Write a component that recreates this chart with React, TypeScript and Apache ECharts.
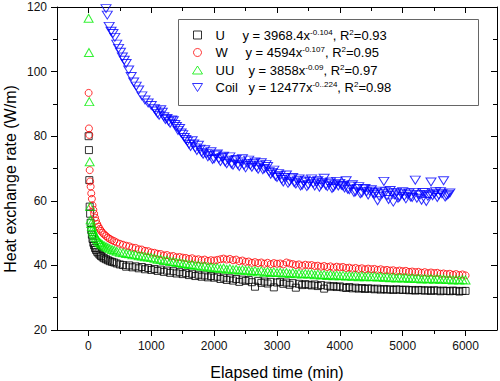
import React, { useEffect, useRef } from 'react';
import * as echarts from 'echarts';

const FONT = '"Liberation Sans", Arial, sans-serif';

// sampling times (min) for U, W, UU
const tEarly = [3, 8, 14, 20, 27, 35, 45, 55, 65, 78, 90, 105, 120, 140, 160, 180, 200, 225, 250, 280, 310, 340, 375, 410, 450, 500];
const tLate = [
  550, 600, 650, 700, 750, 800, 850, 900, 950, 1000,
  1050, 1100, 1150, 1200, 1250, 1300, 1350, 1400, 1450, 1500,
  1550, 1600, 1650, 1700, 1750, 1800, 1850, 1900, 1950, 2000,
  2050, 2100, 2150, 2200, 2250, 2300, 2350, 2400, 2450, 2500,
  2550, 2600, 2650, 2700, 2750, 2800, 2850, 2900, 2950, 3000,
  3050, 3100, 3150, 3200, 3250, 3300, 3350, 3400, 3450, 3500,
  3550, 3600, 3650, 3700, 3750, 3800, 3850, 3900, 3950, 4000,
  4050, 4100, 4150, 4200, 4250, 4300, 4350, 4400, 4450, 4500,
  4550, 4600, 4650, 4700, 4750, 4800, 4850, 4900, 4950, 5000,
  5050, 5100, 5150, 5200, 5250, 5300, 5350, 5400, 5450, 5500,
  5550, 5600, 5650, 5700, 5750, 5800, 5850, 5900, 5950, 6000,
];
const timeMain = [...tEarly, ...tLate];

const uValues = [
  80, 75.7, 66.4, 58.2, 56, 53.2, 51, 49.5, 48.2, 47, 46.2, 45.4, 44.8, 44.2, 43.7, 43.3, 42.9, 42.5, 42.2, 41.9, 41.6, 41.3, 41.1, 40.9, 40.6, 40.3,
  40.1, 39.6, 40.0, 39.4, 39.7, 39.1, 39.5, 38.8, 39.2, 38.6,
  38.9, 38.3, 38.7, 38.0, 38.4, 37.7, 38.2, 37.5, 37.9, 37.3,
  37.6, 37.0, 37.4, 36.7, 37.1, 36.5, 36.9, 36.3, 36.7, 36.2,
  36.5, 35.8, 36.2, 35.5, 36.0, 35.3, 35.8, 34.9, 35.6, 35.2,
  35.5, 34.8, 33.4, 35.2, 34.6, 35.0, 34.4, 34.9, 33.2, 34.7,
  34.9, 34.3, 34.7, 34.0, 34.5, 33.1, 34.3, 33.9, 34.2, 34.0,
  33.8, 34.1, 33.6, 33.9, 32.8, 33.7, 33.4, 33.6, 33.3, 33.5,
  33.2, 33.0, 33.3, 32.9, 33.1, 32.8, 33.0, 32.7, 32.9, 32.8,
  32.6, 32.8, 32.5, 32.7, 32.5, 32.6, 32.4, 32.6, 32.5, 32.4,
  32.5, 32.3, 32.4, 32.2, 32.4, 32.3, 32.2, 32.3, 32.1, 32.3,
  32.2, 32.0, 32.2, 32.1, 32.0, 32.2, 32.1, 31.9, 32.1, 32.1,
];

const wValues = [
  93.4, 82.4, 80.4, 69.5, 66, 64.4, 62.3, 60.6, 58.6, 57.2, 56, 54.8, 53.8, 52.8, 52, 51.3, 50.7, 50.1, 49.6, 49.1, 48.6, 48.2, 47.8, 47.5, 47.1, 46.7,
  46.4, 46.1, 45.9, 45.5, 45.4, 45.0, 44.9, 44.5, 44.4, 44.0,
  43.9, 43.6, 43.5, 43.1, 43.2, 42.8, 42.9, 42.5, 42.6, 42.4,
  42.3, 42.0, 42.2, 41.8, 41.9, 41.6, 41.8, 41.4, 41.6, 41.5,
  41.7, 41.9, 42.1, 41.8, 42.0, 41.6, 41.8, 41.3, 41.5, 41.1,
  41.2, 40.8, 41.0, 40.7, 40.9, 40.5, 40.8, 40.4, 40.7, 40.5,
  40.6, 40.3, 40.9, 40.6, 40.4, 40.1, 40.3, 39.9, 40.2, 40.0,
  40.1, 39.8, 39.9, 39.6, 39.8, 39.5, 39.7, 39.3, 39.6, 39.4,
  39.5, 39.2, 39.3, 39.0, 39.2, 38.9, 39.1, 38.8, 39.0, 38.8,
  38.9, 38.6, 38.8, 38.5, 38.6, 38.4, 38.5, 38.2, 38.4, 38.2,
  38.3, 38.0, 38.1, 37.9, 38.0, 37.7, 37.9, 37.6, 37.8, 37.6,
  37.7, 37.4, 37.5, 37.3, 37.4, 37.1, 37.3, 37.0, 37.2, 36.9,
];

const uuValues = [
  116.5, 105.9, 90.7, 72.1, 58.2, 54.1, 53, 52, 51.2, 50.4, 49.8, 49.2, 48.6, 48, 47.5, 47.1, 46.7, 46.4, 46.1, 45.8, 45.5, 45.2, 44.9, 44.7, 44.4, 44.1,
  43.9, 43.7, 43.6, 43.3, 43.3, 43.0, 42.9, 42.7, 42.6, 42.4,
  42.2, 41.9, 41.9, 41.5, 41.6, 41.2, 41.2, 40.9, 40.9, 40.6,
  40.6, 40.3, 40.3, 40.0, 40.0, 39.7, 39.8, 39.5, 39.5, 39.3,
  39.3, 39.0, 39.2, 38.8, 39.0, 38.7, 38.8, 38.5, 38.7, 38.5,
  38.5, 38.2, 38.4, 38.0, 38.3, 37.9, 38.1, 37.8, 38.0, 37.8,
  37.9, 37.6, 37.8, 37.5, 37.7, 37.4, 37.6, 37.3, 37.5, 37.3,
  37.4, 37.1, 37.3, 37.0, 37.2, 36.9, 37.1, 36.8, 37.0, 36.8,
  36.9, 36.7, 36.8, 36.6, 36.8, 36.5, 36.7, 36.5, 36.6, 36.5,
  36.6, 36.4, 36.5, 36.3, 36.4, 36.2, 36.3, 36.1, 36.3, 36.1,
  36.2, 36.0, 36.1, 35.9, 36.0, 35.8, 35.9, 35.8, 35.9, 35.7,
  35.9, 35.7, 35.8, 35.6, 35.7, 35.5, 35.6, 35.5, 35.6, 35.5,
];

// sampling times (min) for Coil
const tCoilEarly = [280, 300, 330, 360, 390, 420, 450, 480, 510, 540, 570, 600, 640, 680, 720, 760, 800, 850, 900, 950, 1000];
const tCoilMid = [
  1075, 1125, 1175, 1225, 1275, 1325, 1375, 1425, 1475, 1525,
  1575, 1625, 1675, 1725, 1775, 1825, 1875, 1925, 1975, 2025,
  2075, 2125, 2175, 2225, 2275, 2325, 2375, 2425, 2475, 2525,
  2575, 2625, 2675, 2725, 2775, 2825, 2875, 2925, 2975, 3025,
  3075, 3125, 3175, 3225, 3275, 3325, 3375, 3425, 3475, 3525,
  3575, 3625, 3675, 3725, 3775, 3825, 3875, 3925, 3975, 4025,
  4075, 4125, 4175, 4225, 4275, 4325, 4375, 4425, 4475, 4525,
  4575, 4625, 4675, 4725, 4775, 4825, 4875, 4925, 4975, 5025,
  5075, 5125, 5175, 5225, 5275, 5325, 5375, 5425, 5475, 5525,
  5575, 5625, 5675, 5725,
];
const timeCoil = [...tCoilEarly, ...tLate.slice(10, 105), ...tCoilMid];
const coilValues = [
  119.5, 117.5, 114, 112.5, 111.8, 110.6, 108.5, 107.2, 106, 104.5, 103.5, 102.5, 100.5, 98.5, 96.8, 95.5, 94.3, 92.5, 91.2, 90.3, 89.5,
  88.5, 87.0, 88.2, 86.0, 85.5, 84.0, 84.8, 83.0, 82.4, 80.5,
  79.0, 77.5, 78.6, 76.4, 77.2, 75.0, 75.8, 73.6, 75.2, 73.0,
  74.5, 72.2, 73.8, 71.5, 73.6, 71.0, 72.8, 70.6, 73.0, 70.2,
  72.6, 70.4, 72.0, 69.8, 71.8, 70.0, 70.6, 68.2, 69.5, 67.2,
  67.8, 65.8, 68.0, 66.0, 67.2, 65.2, 66.8, 64.8, 66.4, 65.0,
  66.8, 64.6, 66.2, 65.0, 67.0, 64.4, 65.8, 64.2, 66.0, 65.4,
  64.6, 66.2, 63.4, 65.0, 62.8, 64.4, 62.4, 63.8, 61.8, 63.4,
  62.0, 60.0, 63.0, 66.0, 61.6, 63.2, 59.6, 62.6, 61.2, 62.8,
  60.6, 62.4, 61.0, 66.4, 62.0, 60.2, 62.6, 61.4, 65.8, 62.2,
  61.0, 62.8, 66.2, 61.6, 62.4,
  // mid-step readings
  87.8, 86.5, 87.4, 85.2, 84.6, 85.0, 83.6, 81.8, 81.0, 79.6,
  78.4, 76.8, 77.6, 75.6, 76.0, 74.4, 74.6, 74.0, 72.8, 74.2,
  73.0, 73.4, 72.0, 72.6, 71.4, 72.4, 71.2, 72.0, 71.0, 71.6,
  71.0, 71.6, 70.4, 71.0, 69.6, 71.2, 69.0, 68.8, 67.6, 68.4,
  66.6, 67.2, 65.4, 66.8, 65.6, 66.2, 64.6, 65.8, 64.4, 66.0,
  65.4, 65.8, 64.2, 65.6, 64.8, 65.4, 63.8, 65.0, 64.6, 64.8,
  64.0, 63.6, 64.6, 62.6, 63.8, 62.2, 63.6, 62.8, 63.0, 62.4,
  62.6, 61.4, 62.2, 62.8, 60.4, 62.4, 61.8, 60.8, 62.2, 61.4,
  62.0, 61.2, 62.6, 60.8, 61.8, 62.6, 59.8, 62.0, 61.6, 62.8,
  61.8, 62.2, 61.2, 62.0,
];

const seriesNames = ['U', 'W', 'UU', 'Coil'];
const equations = [
  ['y = 3968.4x', '-0.104', ', R', '2', '=0.93'],
  ['y = 4594x', '-0.107', ', R', '2', '=0.95'],
  ['y = 3858x', '-0.09', ', R', '2', '=0.97'],
  ['y = 12477x', '-0..224', ', R', '2', '=0.98'],
];

const xMajorTicks = [0, 1000, 2000, 3000, 4000, 5000, 6000];
const xMinorTicks = [500, 1500, 2500, 3500, 4500, 5500];

const pairs = (ts: number[], vs: number[]) => vs.map((v, i) => [ts[i], v]);

const SQUARE = 'path://M0,0H10V10H0Z';
const INV_TRI = 'path://M0,0L10,0L5,8Z';

export default function App() {
  const ref = useRef<HTMLDivElement>(null);
  useEffect(() => {
    document.body.style.margin = '0';
    const chart = echarts.init(ref.current!, null, { renderer: 'svg' });
    const line = { color: '#000', width: 1 };
    const baseX = {
      type: 'value',
      min: -500,
      max: 6500,
      gridIndex: 0,
      splitLine: { show: false },
      axisLine: { show: false, onZero: false, lineStyle: line },
      axisLabel: { show: false },
    };
    const colors = ['#000000', '#ff0000', '#00ee00', '#0000ff'];
    const option: any = {
      animation: false,
      backgroundColor: '#fff',
      grid: { left: 57, right: 3, top: 7, bottom: 51, containLabel: false, outerBoundsMode: 'none' },
      xAxis: [
        {
          ...baseX,
          position: 'bottom',
          axisLine: { show: true, onZero: false, lineStyle: line },
          axisTick: { show: true, inside: false, length: 6, customValues: xMajorTicks, lineStyle: line },
          axisLabel: {
            show: true,
            customValues: xMajorTicks,
            formatter: (v: number) => String(v),
            fontSize: 12,
            color: '#111',
            margin: 10,
            fontFamily: FONT,
          },
          name: 'Elapsed time (min)',
          nameLocation: 'middle',
          nameGap: 34,
          nameTextStyle: { fontSize: 16, color: '#000', fontFamily: FONT },
        },
        {
          ...baseX,
          position: 'bottom',
          axisTick: { show: true, inside: false, length: 4, customValues: xMinorTicks, lineStyle: line },
        },
        {
          ...baseX,
          position: 'top',
          axisLine: { show: true, onZero: false, lineStyle: line },
          axisTick: { show: true, inside: true, length: 6, customValues: xMajorTicks, lineStyle: line },
        },
        {
          ...baseX,
          position: 'top',
          axisTick: { show: true, inside: true, length: 4, customValues: xMinorTicks, lineStyle: line },
        },
      ],
      yAxis: [
        {
          type: 'value',
          min: 20,
          max: 120,
          interval: 20,
          position: 'left',
          axisLine: { show: true, onZero: false, lineStyle: line },
          axisTick: { show: true, inside: false, length: 6, lineStyle: line },
          minorTick: { show: true, splitNumber: 2, length: 4, lineStyle: line },
          axisLabel: { fontSize: 12, color: '#111', margin: 10, fontFamily: FONT },
          splitLine: { show: false },
          minorSplitLine: { show: false },
        },
        {
          type: 'value',
          min: 20,
          max: 120,
          interval: 20,
          position: 'right',
          axisLine: { show: true, onZero: false, lineStyle: line },
          axisTick: { show: true, inside: true, length: 6, lineStyle: line },
          minorTick: { show: true, splitNumber: 2, length: 4, lineStyle: line },
          axisLabel: { show: false },
          splitLine: { show: false },
          minorSplitLine: { show: false },
        },
      ],
      legend: {
        orient: 'vertical',
        left: 192,
        top: 28,
        padding: 0,
        itemGap: 4,
        itemWidth: 10,
        itemHeight: 8,
        selectedMode: false,
        symbolKeepAspect: true,
        data: seriesNames.map((n, i) => ({
          name: n,
          icon: [SQUARE, 'circle', 'triangle', INV_TRI][i],
          itemStyle: { color: 'rgba(0,0,0,0)', borderColor: colors[i], borderWidth: 1 },
        })),
        formatter: (name: string) => {
          const i = seriesNames.indexOf(name);
          const e = equations[i];
          return `{n${i}|${name}}{t|${e[0]}}{s|${e[1]}}{t|${e[2]}}{s|${e[3]}}{t|${e[4]}}`;
        },
        textStyle: {
          fontFamily: FONT,
          fontSize: 13,
          color: '#000',
          rich: {
            n0: { fontSize: 13, width: 27, padding: [0, 0, 0, 8], lineHeight: 14, fontFamily: FONT, color: '#000' },
            n1: { fontSize: 13, width: 30, padding: [0, 0, 0, 8], lineHeight: 14, fontFamily: FONT, color: '#000' },
            n2: { fontSize: 13, width: 33, padding: [0, 0, 0, 8], lineHeight: 14, fontFamily: FONT, color: '#000' },
            n3: { fontSize: 13, width: 33, padding: [0, 0, 0, 8], lineHeight: 14, fontFamily: FONT, color: '#000' },
            t: { fontSize: 13, lineHeight: 14, fontFamily: FONT, color: '#000' },
            s: { fontSize: 8, lineHeight: 6, verticalAlign: 'top', fontFamily: FONT, color: '#000' },
          },
        },
      },
      graphic: [
        {
          type: 'rect',
          silent: true,
          shape: { x: 178.5, y: 19.5, width: 300, height: 86 },
          style: { fill: 'none', stroke: '#666', lineWidth: 1 },
        },
        {
          type: 'text',
          silent: true,
          x: 10,
          y: 179,
          rotation: Math.PI / 2,
          style: {
            text: 'Heat exchange rate (W/m)',
            font: '16px "Liberation Sans", Arial, sans-serif',
            fill: '#000',
            align: 'center',
            verticalAlign: 'middle',
          },
        },
      ],
      series: [
        {
          name: 'U',
          type: 'scatter',
          data: pairs(timeMain, uValues),
          symbol: SQUARE,
          symbolSize: 7,
          itemStyle: { color: 'rgba(0,0,0,0)', borderColor: colors[0], borderWidth: 1 },
        },
        {
          name: 'W',
          type: 'scatter',
          data: pairs(timeMain, wValues),
          symbol: 'circle',
          symbolSize: 7,
          itemStyle: { color: 'rgba(0,0,0,0)', borderColor: colors[1], borderWidth: 1 },
        },
        {
          name: 'UU',
          type: 'scatter',
          data: pairs(timeMain, uuValues),
          symbol: 'triangle',
          symbolSize: [9, 8],
          itemStyle: { color: 'rgba(0,0,0,0)', borderColor: colors[2], borderWidth: 1 },
        },
        {
          name: 'Coil',
          type: 'scatter',
          data: pairs(timeCoil, coilValues),
          symbol: INV_TRI,
          symbolSize: [10, 8],
          itemStyle: { color: 'rgba(0,0,0,0)', borderColor: colors[3], borderWidth: 1 },
        },
      ],
    };
    chart.setOption(option);
    return () => chart.dispose();
  }, []);
  return <div ref={ref} style={{ width: 500, height: 381, background: '#fff' }} />;
}
